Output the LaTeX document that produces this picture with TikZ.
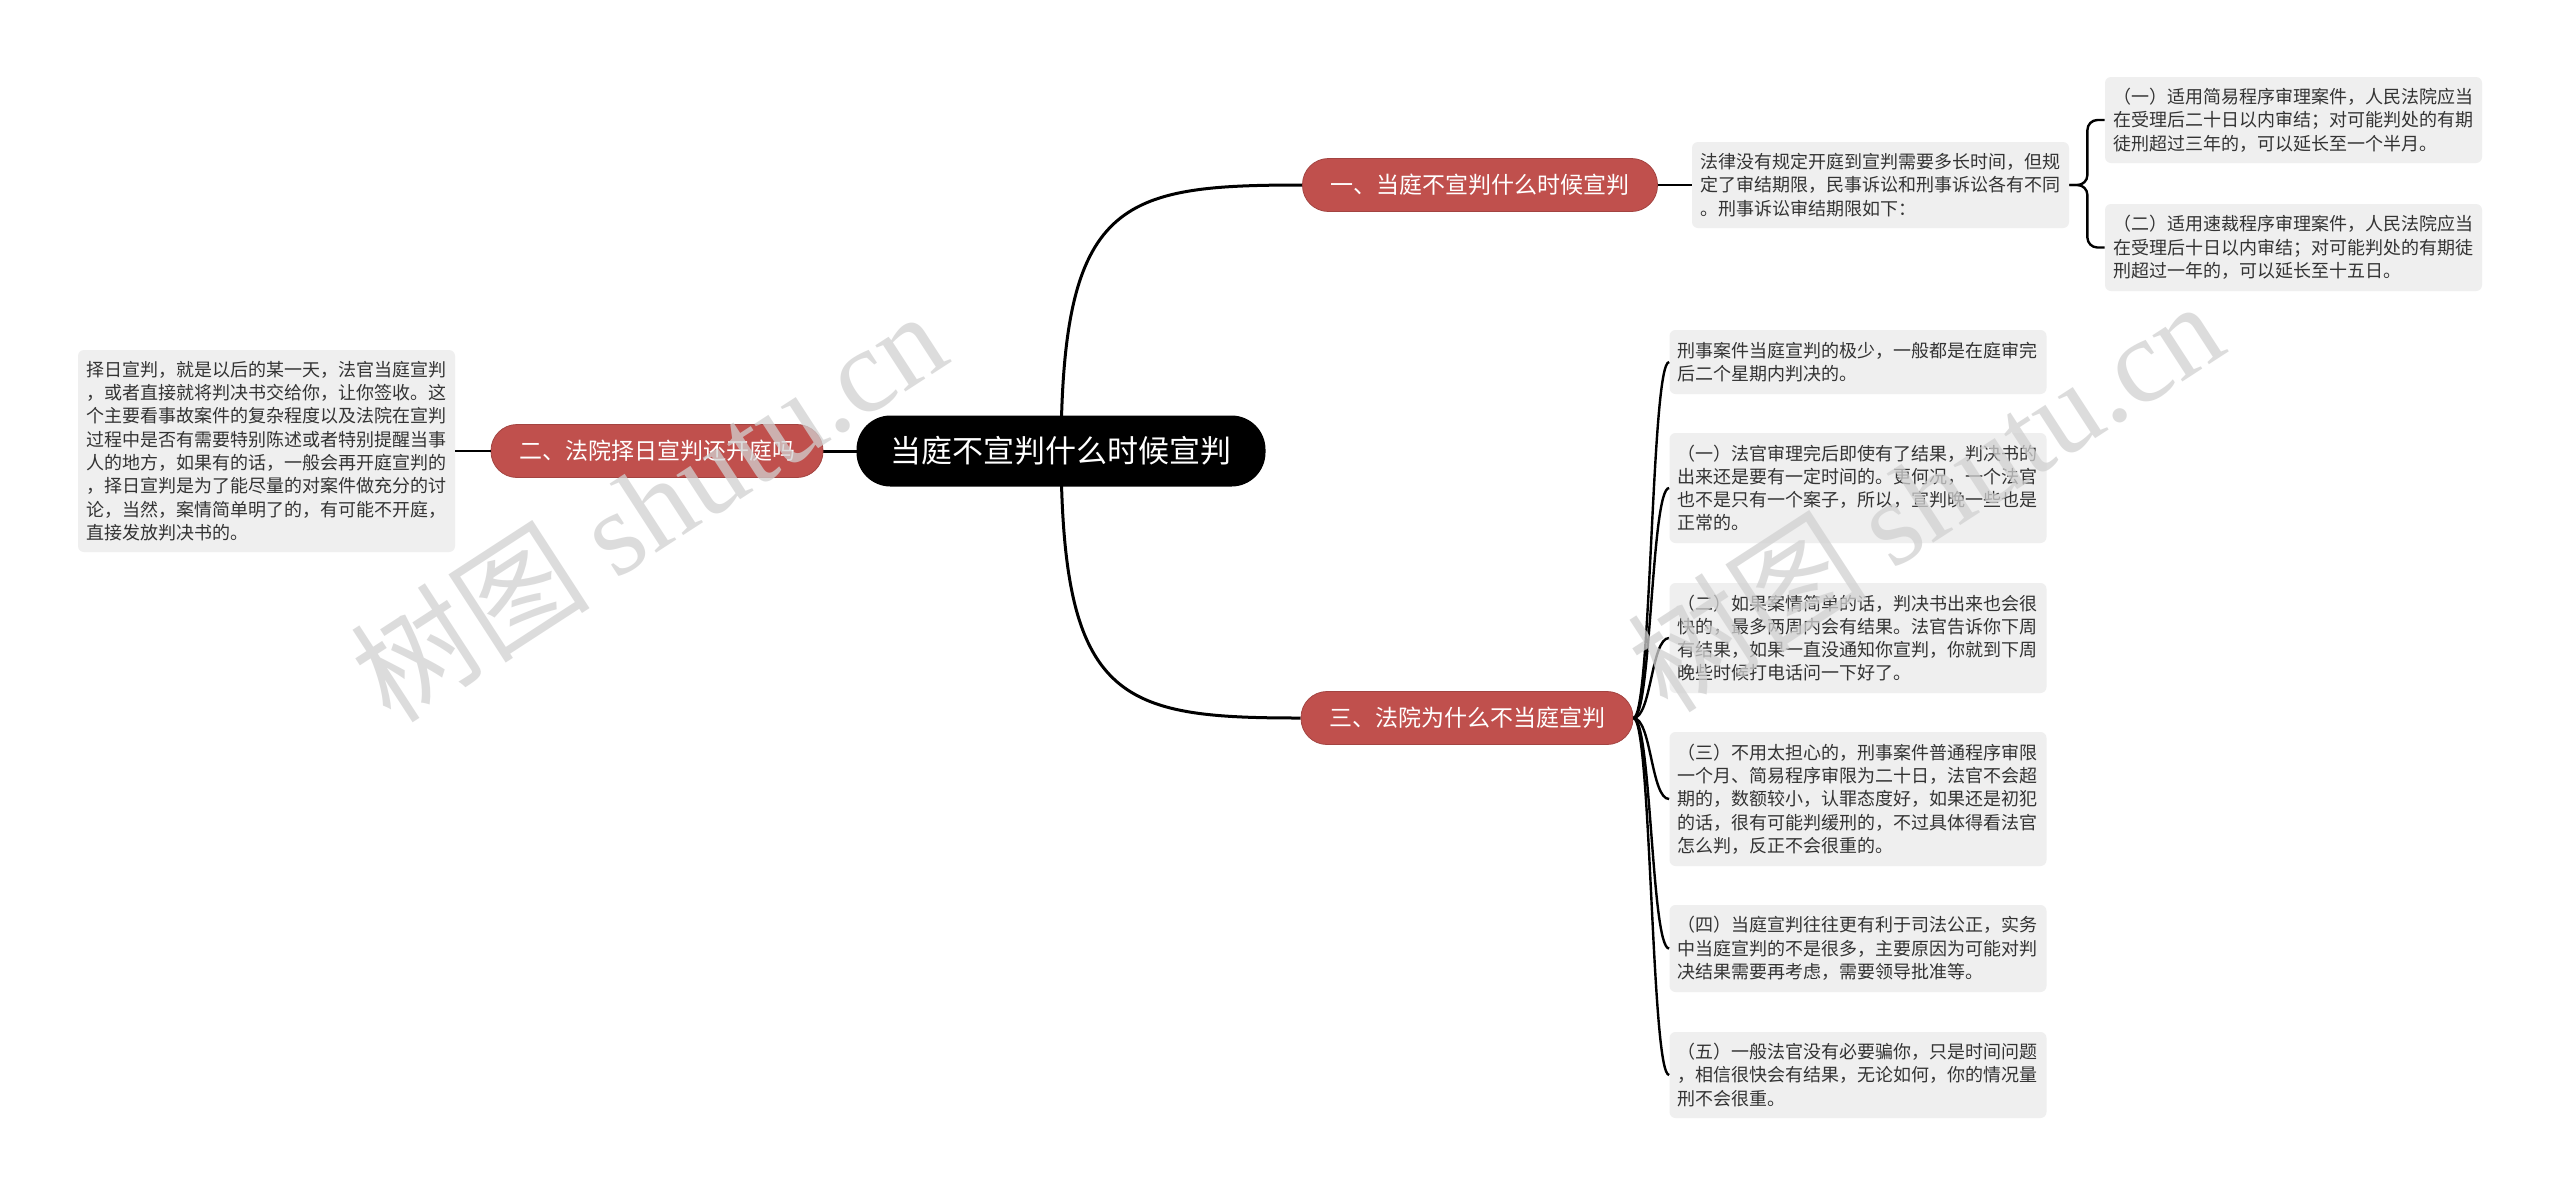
\documentclass[tikz,border=0pt]{standalone}
\usepackage{fontspec}
\setmainfont{Noto Sans CJK SC}
\newfontfamily\wmlatin{Liberation Serif}
\usetikzlibrary{calc}
\definecolor{branchred}{HTML}{C0504D}
\definecolor{leafgray}{HTML}{EFEFEF}
\definecolor{leaftext}{HTML}{333333}
\pgfdeclarelayer{back}
\pgfdeclarelayer{front}
\pgfsetlayers{back,main,front}
\begin{document}
\begin{tikzpicture}[x=0.5pt,y=-0.5pt,
  rootbox/.style={fill=black, text=white, rounded corners=17pt, minimum height=35.5pt, inner xsep=17pt, font=\fontsize{15.5}{19}\selectfont},
  branchbox/.style={fill=branchred, draw=branchred!85!black, line width=0.4pt, text=white, rounded corners=13pt, minimum height=26.5pt, inner xsep=14pt, font=\fontsize{11.5}{14}\selectfont},
  leafbox/.style={fill=leafgray, text=leaftext, rounded corners=3pt, text width=180.5pt, inner xsep=4pt, align=left, font=\fontsize{9}{11.65}\selectfont},
  mainlink/.style={line width=1.5pt, draw=black},
  sublink/.style={line width=1.2pt, draw=black},
  wmark/.style={rotate=33, text=black!18, opacity=0.75, font=\fontsize{60}{64}\selectfont}
]
\useasboundingbox (0,0) rectangle (2560,1196);
\begin{pgfonlayer}{back}
\fill[white] (0,0) rectangle (2560,1196);
\end{pgfonlayer}

\node[rootbox] (root) at (1061,451) {当庭不宣判什么时候宣判};
\node[branchbox] (b1) at (1480,185) {一、当庭不宣判什么时候宣判};
\node[branchbox] (b2) at (657,451) {二、法院择日宣判还开庭吗};
\node[branchbox] (b3) at (1467,718) {三、法院为什么不当庭宣判};

\node[leafbox, minimum height=43pt] (A) at (1880.5,185) {法律没有规定开庭到宣判需要多长时间，但规\\定了审结期限，民事诉讼和刑事诉讼各有不同\\。刑事诉讼审结期限如下：};
\node[leafbox, minimum height=43pt] (A1) at (2293.5,120) {（一）适用简易程序审理案件，人民法院应当\\在受理后二十日以内审结；对可能判处的有期\\徒刑超过三年的，可以延长至一个半月。};
\node[leafbox, minimum height=43.5pt] (A2) at (2293.5,247.5) {（二）适用速裁程序审理案件，人民法院应当\\在受理后十日以内审结；对可能判处的有期徒\\刑超过一年的，可以延长至十五日。};

\node[leafbox, minimum height=101pt] (B) at (266.5,451) {择日宣判，就是以后的某一天，法官当庭宣判\\，或者直接就将判决书交给你，让你签收。这\\个主要看事故案件的复杂程度以及法院在宣判\\过程中是否有需要特别陈述或者特别提醒当事\\人的地方，如果有的话，一般会再开庭宣判的\\，择日宣判是为了能尽量的对案件做充分的讨\\论，当然，案情简单明了的，有可能不开庭，\\直接发放判决书的。};

\node[leafbox, minimum height=32pt] (c1) at (1858,362) {刑事案件当庭宣判的极少，一般都是在庭审完\\后二个星期内判决的。};
\node[leafbox, minimum height=55pt] (c2) at (1858,488) {（一）法官审理完后即使有了结果，判决书的\\出来还是要有一定时间的。更何况，一个法官\\也不是只有一个案子，所以，宣判晚一些也是\\正常的。};
\node[leafbox, minimum height=55pt] (c3) at (1858,638) {（二）如果案情简单的话，判决书出来也会很\\快的，最多两周内会有结果。法官告诉你下周\\有结果，如果一直没通知你宣判，你就到下周\\晚些时候打电话问一下好了。};
\node[leafbox, minimum height=67pt] (c4) at (1858,799) {（三）不用太担心的，刑事案件普通程序审限\\一个月、简易程序审限为二十日，法官不会超\\期的，数额较小，认罪态度好，如果还是初犯\\的话，很有可能判缓刑的，不过具体得看法官\\怎么判，反正不会很重的。};
\node[leafbox, minimum height=43.5pt] (c5) at (1858,948.5) {（四）当庭宣判往往更有利于司法公正，实务\\中当庭宣判的不是很多，主要原因为可能对判\\决结果需要再考虑，需要领导批准等。};
\node[leafbox, minimum height=43pt] (c6) at (1858,1075) {（五）一般法官没有必要骗你，只是时间问题\\，相信很快会有结果，无论如何，你的情况量\\刑不会很重。};

\begin{pgfonlayer}{back}
\draw[mainlink] (root.center) .. controls (1062,200) and (1120,185) .. (b1.west);
\draw[mainlink] (root.center) .. controls (1062,702) and (1120,718) .. (b3.west);
\draw[mainlink] (root.center) -- (b2.east);
\end{pgfonlayer}
\draw[sublink] (b2.west) -- (B.east);
\draw[sublink] (b1.east) -- (A.west);
\draw[sublink, rounded corners=5pt] (A.east) -- ++(18,0) |- (A1.west);
\draw[sublink, rounded corners=5pt] (A.east) -- ++(18,0) |- (A2.west);
\foreach \c in {c1,c2,c3,c4,c5,c6}{
  \draw[sublink] (b3.east) .. controls +(18,0) and +(-18,0) .. (\c.west);
}

\begin{pgfonlayer}{front}
\node[wmark] (wm1) at (648,505) {树图 {\wmlatin shutu.cn}};
\node[wmark] (wm2) at (1925,495) {树图 {\wmlatin shutu.cn}};
\end{pgfonlayer}
\end{tikzpicture}
\end{document}
